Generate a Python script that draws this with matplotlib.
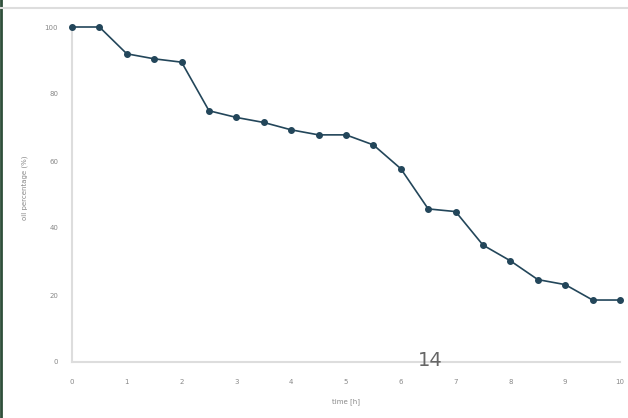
import numpy as np
import matplotlib.pyplot as plt
from matplotlib.lines import Line2D

time_h = [0, 0.5, 1, 1.5, 2, 2.5, 3, 3.5, 4, 4.5, 5, 5.5, 6, 6.5, 7, 7.5, 8, 8.5, 9, 9.5, 10]
oil_pct = [100, 100, 92, 90.5, 89.5, 75, 73, 71.5, 69.3, 67.8, 67.8, 64.8, 57.7, 45.7, 44.9, 34.9, 30.2, 24.6, 23.1, 18.5, 18.5]

xticks = np.arange(0, 11, 1)
yticks = np.arange(0, 101, 20)

fig = plt.figure(figsize=(6.28, 4.18), dpi=100)
ax = fig.add_axes([72/628, 1-362/418, 548/628, 335/418])

ax.plot(time_h, oil_pct, color="#23465a", lw=1.2, marker="o", ms=4, clip_on=False, zorder=3)

ax.set_xlim(0, 10)
ax.set_ylim(0, 100)
ax.set_xticks(xticks)
ax.set_yticks(yticks)
ax.tick_params(labelsize=5, colors="#888888", length=0)
ax.tick_params(axis="y", pad=10)
ax.tick_params(axis="x", pad=12)
for s in ["top", "right"]:
    ax.spines[s].set_visible(False)
for s in ["left", "bottom"]:
    ax.spines[s].set_color("#dddddd")
    ax.spines[s].set_linewidth(1.5)
ax.set_xlabel("time [h]", fontsize=5, color="#888888")
ax.set_ylabel("oil percentage (%)", fontsize=5, color="#888888")
ax.xaxis.set_label_coords(0.5, -36/335)
ax.yaxis.set_label_coords(-44/548, 0.52)

# page decorations
fig.add_artist(Line2D([0.002, 0.002], [0, 1], color="#2f4f3a", lw=2, transform=fig.transFigure))
fig.add_artist(Line2D([0, 1], [1-8/418, 1-8/418], color="#dddddd", lw=1.5, transform=fig.transFigure))
fig.text(430/628, 1-360/418, "14", fontsize=14, color="#666666", ha="center", va="center")

fig.savefig("out.png", dpi=100)
